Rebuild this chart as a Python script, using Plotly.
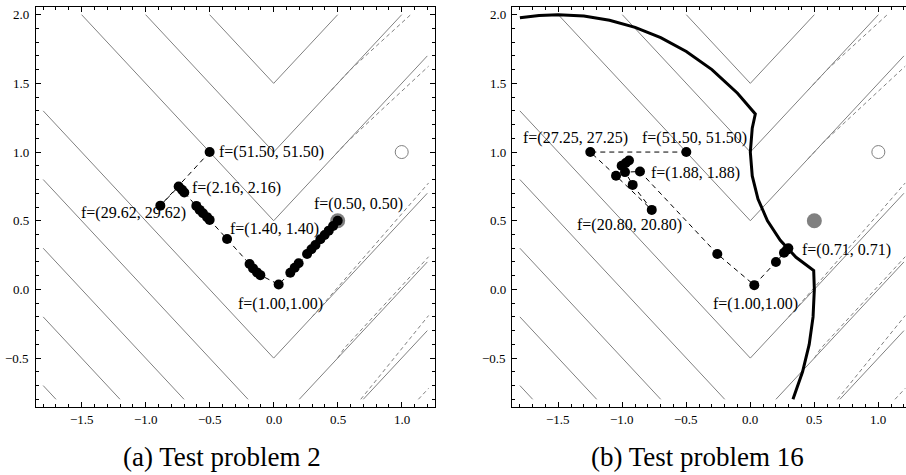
import plotly.graph_objects as go

# ---------------- data ----------------
# objective contour lines (solid), None separates pieces
solid_x = [-0.5, 0.0, 0.5, None, -1.0, 0.0, 1.0, None, -1.5, 0.0, 1.2, None,
           -1.8, 0.0, 1.2, None, -1.8, -0.2, None, 0.2, 1.2, None,
           -1.8, -0.7, None, 0.7, 1.2, None, -1.8, -1.2, None, -1.8, -1.7]
solid_y = [2.0, 1.5, 2.0, None, 2.0, 1.0, 2.0, None, 2.0, 0.5, 1.7, None,
           1.3, -0.5, 0.7, None, 0.8, -0.8, None, -0.8, 0.2, None,
           0.3, -0.8, None, -0.8, -0.3, None, -0.2, -0.8, None, -0.7, -0.8]
# second objective contour lines (dashed)
dash_x = [0.45, 0.6, 1.07, None, 0.45, 0.57, 1.21, None, 0.3, 1.21, None,
          0.5, 0.55, 1.21, None, 0.68, 1.21, None, 1.13, 1.21]
dash_y = [1.45, 1.6, 2.0, None, 0.95, 1.07, 1.625, None, -0.2, 0.775, None,
          -0.5, -0.43, 0.238, None, -0.8, -0.19, None, -0.8, -0.72]

# panel (a) search path
pa_x = [-0.5, -0.885, -0.742, -0.716, -0.698, -0.604, -0.578, -0.552, -0.52, -0.5,
        -0.364, -0.188, -0.161, -0.13, -0.104, 0.039, 0.13, 0.164, 0.195, 0.261,
        0.295, 0.326, 0.365, 0.398, 0.43, 0.464, 0.5]
pa_y = [1.0, 0.61, 0.749, 0.725, 0.705, 0.608, 0.579, 0.555, 0.526, 0.506,
        0.367, 0.185, 0.153, 0.124, 0.104, 0.036, 0.121, 0.158, 0.19, 0.258,
        0.292, 0.323, 0.365, 0.396, 0.428, 0.462, 0.5]

# panel (b) search path
pb_x = [-0.5, -1.25, -1.049, -0.77, -0.919, -1.005, -0.973, -0.948, -0.979, -0.862,
        -0.258, 0.031, 0.2, 0.263, 0.284, 0.297]
pb_y = [1.0, 1.0, 0.827, 0.579, 0.761, 0.9, 0.92, 0.939, 0.854, 0.858,
        0.258, 0.031, 0.2, 0.267, 0.287, 0.299]

# panel (b) constraint boundary
cb_x = [-1.8, -1.65, -1.5, -1.3, -1.1, -0.9, -0.7, -0.5, -0.3, -0.1, 0.039,
        0.015, 0.0, 0.015, 0.06, 0.134, 0.234, 0.357, 0.495,
        0.4975, 0.5, 0.49, 0.46, 0.408, 0.333]
cb_y = [1.977, 1.994, 2.0, 1.99, 1.96, 1.908, 1.833, 1.732, 1.6, 1.428, 1.277,
        1.174, 1.0, 0.826, 0.658, 0.5, 0.357, 0.234, 0.137,
        0.1, 0.0, -0.2, -0.4, -0.6, -0.8]

ideal_pt = [1.0, 1.0]
opt_pt = [0.5, 0.5]

labels_a = ["f=(51.50, 51.50)", "f=(2.16, 2.16)", "f=(29.62, 29.62)",
            "f=(1.40, 1.40)", "f=(0.50, 0.50)", "f=(1.00,1.00)"]
labels_a_pos = [(-0.44, 1.0, "left"), (-0.652, 0.737, "left"), (-0.67, 0.559, "right"),
                (-0.36, 0.438, "left"), (0.30, 0.623, "left"), (-0.298, -0.107, "left")]
labels_b = ["f=(27.25, 27.25)", "f=(51.50, 51.50)", "f=(1.88, 1.88)",
            "f=(20.80, 20.80)", "f=(1.00,1.00)", "f=(0.71, 0.71)"]
labels_b_pos = [(-1.366, 1.102, "center"), (-0.434, 1.102, "center"), (-0.79, 0.851, "left"),
                (-0.94, 0.469, "center"), (-0.305, -0.107, "left"), (0.39, 0.287, "left")]

x_ticks = [-1.5, -1.0, -0.5, 0.0, 0.5, 1.0]
x_ticktext = ["\u22121.5", "\u22121.0", "\u22120.5", "0.0", "0.5", "1.0"]
y_ticks = [-0.5, 0.0, 0.5, 1.0, 1.5, 2.0]
y_ticktext = ["\u22120.5", "0.0", "0.5", "1.0", "1.5", "2.0"]

captions = ["(a) Test problem 2", "(b) Test problem 16"]

# ---------------- figure ----------------
FONT = "Liberation Serif"
GRAY = "#808080"
W, H = 906, 475
fig = go.Figure()

for xa, ya in (("x", "y"), ("x2", "y2")):
    fig.add_trace(go.Scatter(x=solid_x, y=solid_y, mode="lines", xaxis=xa, yaxis=ya,
                             line=dict(color=GRAY, width=1), hoverinfo="skip"))
    fig.add_trace(go.Scatter(x=dash_x, y=dash_y, mode="lines", xaxis=xa, yaxis=ya,
                             line=dict(color=GRAY, width=1, dash="4px,3px"), hoverinfo="skip"))
    fig.add_trace(go.Scatter(x=[ideal_pt[0]], y=[ideal_pt[1]], mode="markers", xaxis=xa, yaxis=ya,
                             marker=dict(size=13, color="white", line=dict(color=GRAY, width=1))))

# panel a
fig.add_trace(go.Scatter(x=[opt_pt[0]], y=[opt_pt[1]], mode="markers", xaxis="x", yaxis="y",
                         marker=dict(size=15, color=GRAY)))
fig.add_trace(go.Scatter(x=pa_x, y=pa_y, mode="lines+markers", xaxis="x", yaxis="y",
                         line=dict(color="black", width=1, dash="5px,4px"),
                         marker=dict(size=10, color="black")))
# panel b
fig.add_trace(go.Scatter(x=[opt_pt[0]], y=[opt_pt[1]], mode="markers", xaxis="x2", yaxis="y2",
                         marker=dict(size=15, color=GRAY)))
fig.add_trace(go.Scatter(x=cb_x, y=cb_y, mode="lines", xaxis="x2", yaxis="y2",
                         line=dict(color="black", width=3)))
fig.add_trace(go.Scatter(x=pb_x, y=pb_y, mode="lines+markers", xaxis="x2", yaxis="y2",
                         line=dict(color="black", width=1, dash="5px,4px"),
                         marker=dict(size=10, color="black")))

ann = []
lab_font = dict(size=16, color="black", family=FONT)
for t, (x, y, anc) in zip(labels_a, labels_a_pos):
    ann.append(dict(x=x, y=y, xref="x", yref="y", text=t, showarrow=False,
                    xanchor=anc, yanchor="middle", font=lab_font))
for t, (x, y, anc) in zip(labels_b, labels_b_pos):
    ann.append(dict(x=x, y=y, xref="x2", yref="y2", text=t, showarrow=False,
                    xanchor=anc, yanchor="middle", font=lab_font))
for t, xc in zip(captions, [222 / W, 697 / W]):
    ann.append(dict(x=xc, y=1 - 457 / H, xref="paper", yref="paper", text=t, showarrow=False,
                    xanchor="center", yanchor="middle", font=dict(size=27, color="black", family=FONT)))

# tick labels drawn as text next to the frame
tick_font = dict(size=13, color="black", family=FONT)
for xr, yr, ylab_px in (("x", "y", 31), ("x2", "y2", 508)):
    for v, t in zip(x_ticks, x_ticktext):
        ann.append(dict(x=v, y=1 - 419 / H, xref=xr, yref="paper", text=t, showarrow=False,
                        xanchor="center", yanchor="middle", font=tick_font))
    for v, t in zip(y_ticks, y_ticktext):
        ann.append(dict(x=ylab_px / W, y=v, xref="paper", yref=yr, text=t, showarrow=False,
                        xanchor="right", yanchor="middle", font=tick_font))

axis_common = dict(showline=True, linecolor="black", linewidth=1, ticks="inside", ticklen=5,
                   tickcolor="black", showgrid=False, zeroline=False, showticklabels=False,
                   minor=dict(dtick=0.1, tick0=0, ticklen=3, ticks="inside", tickcolor="black"))

ydom = [1 - 407 / H, 1 - 7 / H]
fig.update_layout(
    width=W, height=H, margin=dict(l=0, r=0, t=0, b=0),
    paper_bgcolor="white", plot_bgcolor="white", showlegend=False,
    hovermode=False,
    annotations=ann,
    xaxis=dict(domain=[35.5 / W, 435 / W], range=[-1.86, 1.26], anchor="y",
               tickvals=x_ticks, ticktext=x_ticktext, mirror="ticks", **axis_common),
    yaxis=dict(domain=ydom, range=[-0.856, 2.056], anchor="x",
               tickvals=y_ticks, ticktext=y_ticktext, mirror="ticks", **axis_common),
    xaxis2=dict(domain=[512.2 / W, 1.0], range=[-1.86, 1.216], anchor="y2",
                tickvals=x_ticks, ticktext=x_ticktext, mirror="ticks", **axis_common),
    yaxis2=dict(domain=ydom, range=[-0.856, 2.056], anchor="x2",
                tickvals=y_ticks, ticktext=y_ticktext, mirror=False, **axis_common),
)

fig.write_html("out.html", config={"displayModeBar": False, "staticPlot": True},
               post_script="document.body.style.margin='0';document.body.style.overflow='hidden';")
